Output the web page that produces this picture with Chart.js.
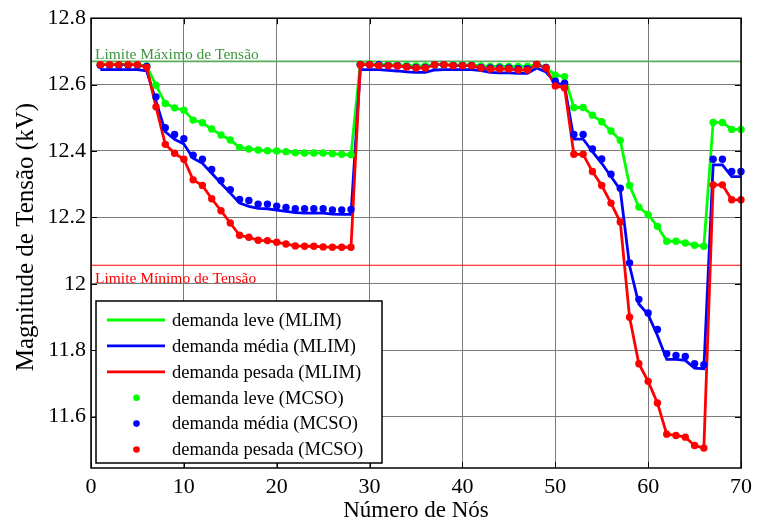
<!DOCTYPE html>
<html>
<head>
<meta charset="utf-8">
<script src="https://cdn.jsdelivr.net/npm/chart.js@4/dist/chart.umd.min.js"></script>
<style>
  html, body { margin: 0; padding: 0; background: #ffffff; }
  #wrap { width: 758px; height: 524px; }
</style>
</head>
<body>
<div id="wrap"><canvas id="c" width="758" height="524"></canvas></div>
<script>
// Node numbers of the feeder (x axis)
const nodes = [1,2,3,4,5,6,7,8,9,10,11,12,13,14,15,16,17,18,19,20,
  21,22,23,24,25,26,27,28,29,30,31,32,33,34,35,36,37,38,39,40,
  41,42,43,44,45,46,47,48,49,50,51,52,53,54,55,56,57,58,59,60,
  61,62,63,64,65,66,67,68,69,70];

// Voltage magnitude (kV) per node — MLIM method
const leveMLIM = [12.660,12.660,12.660,12.660,12.660,12.655,12.598,12.543,12.530,12.523,
  12.493,12.485,12.466,12.448,12.433,12.411,12.406,12.403,12.401,12.400,
  12.398,12.395,12.394,12.394,12.394,12.392,12.390,12.389,12.662,12.662,
  12.660,12.660,12.659,12.658,12.656,12.656,12.660,12.660,12.659,12.659,
  12.659,12.656,12.655,12.655,12.655,12.655,12.655,12.660,12.652,12.628,
  12.624,12.531,12.531,12.508,12.488,12.460,12.432,12.296,12.231,12.208,
  12.173,12.128,12.128,12.123,12.116,12.113,12.486,12.486,12.465,12.465];
const mediaMLIM = [12.645,12.645,12.645,12.645,12.645,12.641,12.550,12.458,12.435,12.421,
  12.378,12.363,12.333,12.303,12.273,12.243,12.233,12.227,12.226,12.222,
  12.218,12.214,12.213,12.213,12.213,12.210,12.209,12.209,12.645,12.645,
  12.645,12.643,12.641,12.638,12.637,12.637,12.644,12.645,12.645,12.645,
  12.645,12.642,12.637,12.635,12.635,12.634,12.634,12.650,12.638,12.606,
  12.598,12.436,12.436,12.398,12.363,12.323,12.283,12.054,11.939,11.907,
  11.844,11.772,11.772,11.769,11.746,11.744,12.358,12.358,12.323,12.323];
const pesadaMLIM = [12.660,12.660,12.660,12.660,12.660,12.652,12.533,12.420,12.393,12.375,
  12.313,12.296,12.256,12.220,12.183,12.146,12.140,12.131,12.130,12.125,
  12.120,12.114,12.113,12.113,12.111,12.110,12.110,12.110,12.660,12.660,
  12.657,12.657,12.656,12.653,12.650,12.650,12.660,12.660,12.657,12.657,
  12.657,12.650,12.647,12.647,12.647,12.644,12.644,12.661,12.650,12.596,
  12.590,12.390,12.390,12.338,12.296,12.243,12.186,11.899,11.759,11.706,
  11.641,11.547,11.543,11.538,11.513,11.505,12.298,12.298,12.253,12.253];

// Voltage magnitude (kV) per node — MCSO method
const leveMCSO = [12.660,12.660,12.660,12.660,12.660,12.656,12.598,12.543,12.530,12.523,
  12.493,12.485,12.466,12.448,12.433,12.411,12.406,12.403,12.401,12.400,
  12.398,12.395,12.394,12.394,12.394,12.392,12.390,12.389,12.662,12.662,
  12.660,12.660,12.659,12.658,12.656,12.656,12.660,12.660,12.659,12.659,
  12.659,12.656,12.655,12.655,12.655,12.655,12.655,12.660,12.652,12.628,
  12.624,12.531,12.531,12.508,12.488,12.460,12.432,12.296,12.231,12.208,
  12.173,12.128,12.128,12.123,12.116,12.113,12.486,12.486,12.465,12.465];
const mediaMCSO = [12.658,12.658,12.658,12.658,12.658,12.655,12.563,12.470,12.450,12.437,
  12.387,12.375,12.344,12.311,12.283,12.254,12.251,12.240,12.240,12.234,
  12.230,12.226,12.226,12.226,12.226,12.222,12.222,12.224,12.660,12.660,
  12.660,12.658,12.657,12.654,12.652,12.652,12.659,12.660,12.658,12.658,
  12.658,12.652,12.650,12.650,12.650,12.648,12.648,12.661,12.652,12.610,
  12.604,12.450,12.450,12.406,12.376,12.330,12.288,12.063,11.953,11.912,
  11.862,11.789,11.784,11.781,11.759,11.756,12.375,12.375,12.338,12.338];
const pesadaMCSO = [12.660,12.660,12.660,12.660,12.660,12.652,12.533,12.420,12.393,12.375,
  12.313,12.296,12.256,12.220,12.183,12.146,12.140,12.131,12.130,12.125,
  12.120,12.114,12.113,12.113,12.111,12.110,12.110,12.110,12.660,12.660,
  12.657,12.657,12.656,12.653,12.650,12.650,12.660,12.660,12.657,12.657,
  12.657,12.650,12.647,12.647,12.647,12.644,12.644,12.661,12.650,12.596,
  12.590,12.390,12.390,12.338,12.296,12.243,12.186,11.899,11.759,11.706,
  11.641,11.547,11.543,11.538,11.513,11.505,12.298,12.298,12.253,12.253];

// Voltage limits (kV)
const limiteMax = 12.670;
const limiteMin = 12.056;

// Axes
const xTicks = [0, 10, 20, 30, 40, 50, 60, 70];
const yTicks = [11.6, 11.8, 12, 12.2, 12.4, 12.6, 12.8];
const xRange = [0, 70];
const yRange = [11.445, 12.8];

const seriesNames = ['demanda leve (MLIM)', 'demanda média (MLIM)', 'demanda pesada (MLIM)',
  'demanda leve (MCSO)', 'demanda média (MCSO)', 'demanda pesada (MCSO)'];

const FONT = "'Liberation Serif', 'Times New Roman', serif";
const GREEN = '#00ff00', BLUE = '#0000ff', RED = '#ff0000';

const pts = vals => vals.map((v, i) => ({ x: nodes[i], y: v }));
const hline = v => [{ x: xRange[0], y: v }, { x: xRange[1], y: v }];

function lineSet(label, vals, color, order) {
  return { label, data: pts(vals), borderColor: color, backgroundColor: color,
    borderWidth: 2.8, pointRadius: 0, order, kind: 'line' };
}
function dotSet(label, vals, color, order) {
  return { label, data: pts(vals), showLine: false, borderColor: color,
    backgroundColor: color, pointBackgroundColor: color, pointBorderWidth: 0,
    pointRadius: 3.7, clip: false, order, kind: 'dot' };
}

// Frame, inward ticks, limit labels, axis titles and legend box
const decorations = {
  id: 'decorations',
  afterDatasetsDraw(chart) {
    const { ctx, chartArea: a, scales: { x, y } } = chart;
    ctx.save();

    // limit labels
    ctx.font = `15.5px ${FONT}`;
    ctx.textAlign = 'left';
    ctx.textBaseline = 'alphabetic';
    ctx.fillStyle = '#3c963c';
    ctx.fillText('Limite Máximo de Tensão', a.left + 4, y.getPixelForValue(limiteMax) - 2);
    ctx.fillStyle = RED;
    ctx.fillText('Limite Mínimo de Tensão', a.left + 4, y.getPixelForValue(limiteMin) + 17.5);

    // box around the axes
    ctx.strokeStyle = '#000';
    ctx.lineWidth = 1.5;
    ctx.strokeRect(a.left, a.top, a.right - a.left, a.bottom - a.top);

    // inward tick marks on all four sides
    ctx.lineWidth = 1;
    const tl = 6;
    ctx.beginPath();
    xTicks.forEach(v => {
      const px = Math.round(x.getPixelForValue(v)) + 0.5;
      ctx.moveTo(px, a.bottom); ctx.lineTo(px, a.bottom - tl);
      ctx.moveTo(px, a.top); ctx.lineTo(px, a.top + tl);
    });
    yTicks.forEach(v => {
      const py = Math.round(y.getPixelForValue(v)) + 0.5;
      ctx.moveTo(a.left, py); ctx.lineTo(a.left + tl, py);
      ctx.moveTo(a.right, py); ctx.lineTo(a.right - tl, py);
    });
    ctx.stroke();

    // axis titles
    ctx.fillStyle = '#000';
    ctx.font = `23px ${FONT}`;
    ctx.textAlign = 'center';
    ctx.textBaseline = 'middle';
    ctx.fillText('Número de Nós', (a.left + a.right) / 2, 511);
    ctx.save();
    ctx.translate(26, (a.top + a.bottom) / 2 - 6);
    ctx.rotate(-Math.PI / 2);
    ctx.font = `25px ${FONT}`;
    ctx.fillText('Magnitude de Tensão (kV)', 0, 0);
    ctx.restore();

    // legend
    const bx = a.left + 5, by = 301, bw = 286, bh = 162;
    ctx.fillStyle = '#fff';
    ctx.fillRect(bx, by, bw, bh);
    ctx.strokeStyle = '#000';
    ctx.lineWidth = 1.5;
    ctx.strokeRect(bx, by, bw, bh);
    const rowH = 25.9;
    const entries = chart.data.datasets.filter(d => d.kind === 'line' || d.kind === 'dot');
    const ordered = seriesNames.map(n => entries.find(d => d.label === n));
    ctx.font = `18.5px ${FONT}`;
    ctx.textAlign = 'left';
    ordered.forEach((d, i) => {
      const cy = by + 19 + i * rowH;
      if (d.kind === 'line') {
        ctx.strokeStyle = d.borderColor;
        ctx.lineWidth = 2.8;
        ctx.beginPath();
        ctx.moveTo(bx + 11, cy); ctx.lineTo(bx + 69, cy);
        ctx.stroke();
      } else {
        ctx.fillStyle = d.pointBackgroundColor;
        ctx.beginPath();
        ctx.arc(bx + 40.5, cy, 3.3, 0, Math.PI * 2);
        ctx.fill();
      }
      ctx.fillStyle = '#000';
      ctx.fillText(d.label, bx + 76, cy + 1);
    });
    ctx.restore();
  }
};

new Chart(document.getElementById('c'), {
  type: 'line',
  data: {
    datasets: [
      { label: 'Limite Máximo de Tensão', data: hline(limiteMax), borderColor: '#5aac5a',
        borderWidth: 1.8, pointRadius: 0, order: 20, kind: 'limit' },
      { label: 'Limite Mínimo de Tensão', data: hline(limiteMin), borderColor: RED,
        borderWidth: 1.1, pointRadius: 0, order: 20, kind: 'limit' },
      lineSet(seriesNames[0], leveMLIM, GREEN, 6),
      lineSet(seriesNames[1], mediaMLIM, BLUE, 5),
      lineSet(seriesNames[2], pesadaMLIM, RED, 4),
      dotSet(seriesNames[3], leveMCSO, GREEN, 3),
      dotSet(seriesNames[4], mediaMCSO, BLUE, 2),
      dotSet(seriesNames[5], pesadaMCSO, RED, 1)
    ]
  },
  options: {
    responsive: false,
    animation: false,
    devicePixelRatio: 1,
    events: [],
    layout: { padding: { left: 0, right: 12, top: 16, bottom: 0 } },
    elements: { line: { tension: 0 } },
    plugins: { legend: { display: false }, tooltip: { enabled: false }, title: { display: false } },
    scales: {
      x: {
        type: 'linear', min: xRange[0], max: xRange[1],
        afterBuildTicks: s => { s.ticks = xTicks.map(v => ({ value: v })); },
        afterFit: s => { s.height = 56; },
        border: { display: false },
        grid: { color: '#7a7a7a', lineWidth: 1, drawTicks: false, borderDash: [1, 2] },
        ticks: { font: { family: FONT, size: 22 }, color: '#000', padding: 6,
          maxRotation: 0, autoSkip: false, callback: v => String(v) }
      },
      y: {
        type: 'linear', min: yRange[0], max: yRange[1],
        afterBuildTicks: s => { s.ticks = yTicks.map(v => ({ value: v })); },
        afterFit: s => { s.width = 91; },
        border: { display: false },
        grid: { color: '#7a7a7a', lineWidth: 1, drawTicks: false, borderDash: [1, 2] },
        ticks: { font: { family: FONT, size: 22 }, color: '#000', padding: 5,
          autoSkip: false, callback: v => String(v) }
      }
    }
  },
  plugins: [decorations]
});
</script>
</body>
</html>
